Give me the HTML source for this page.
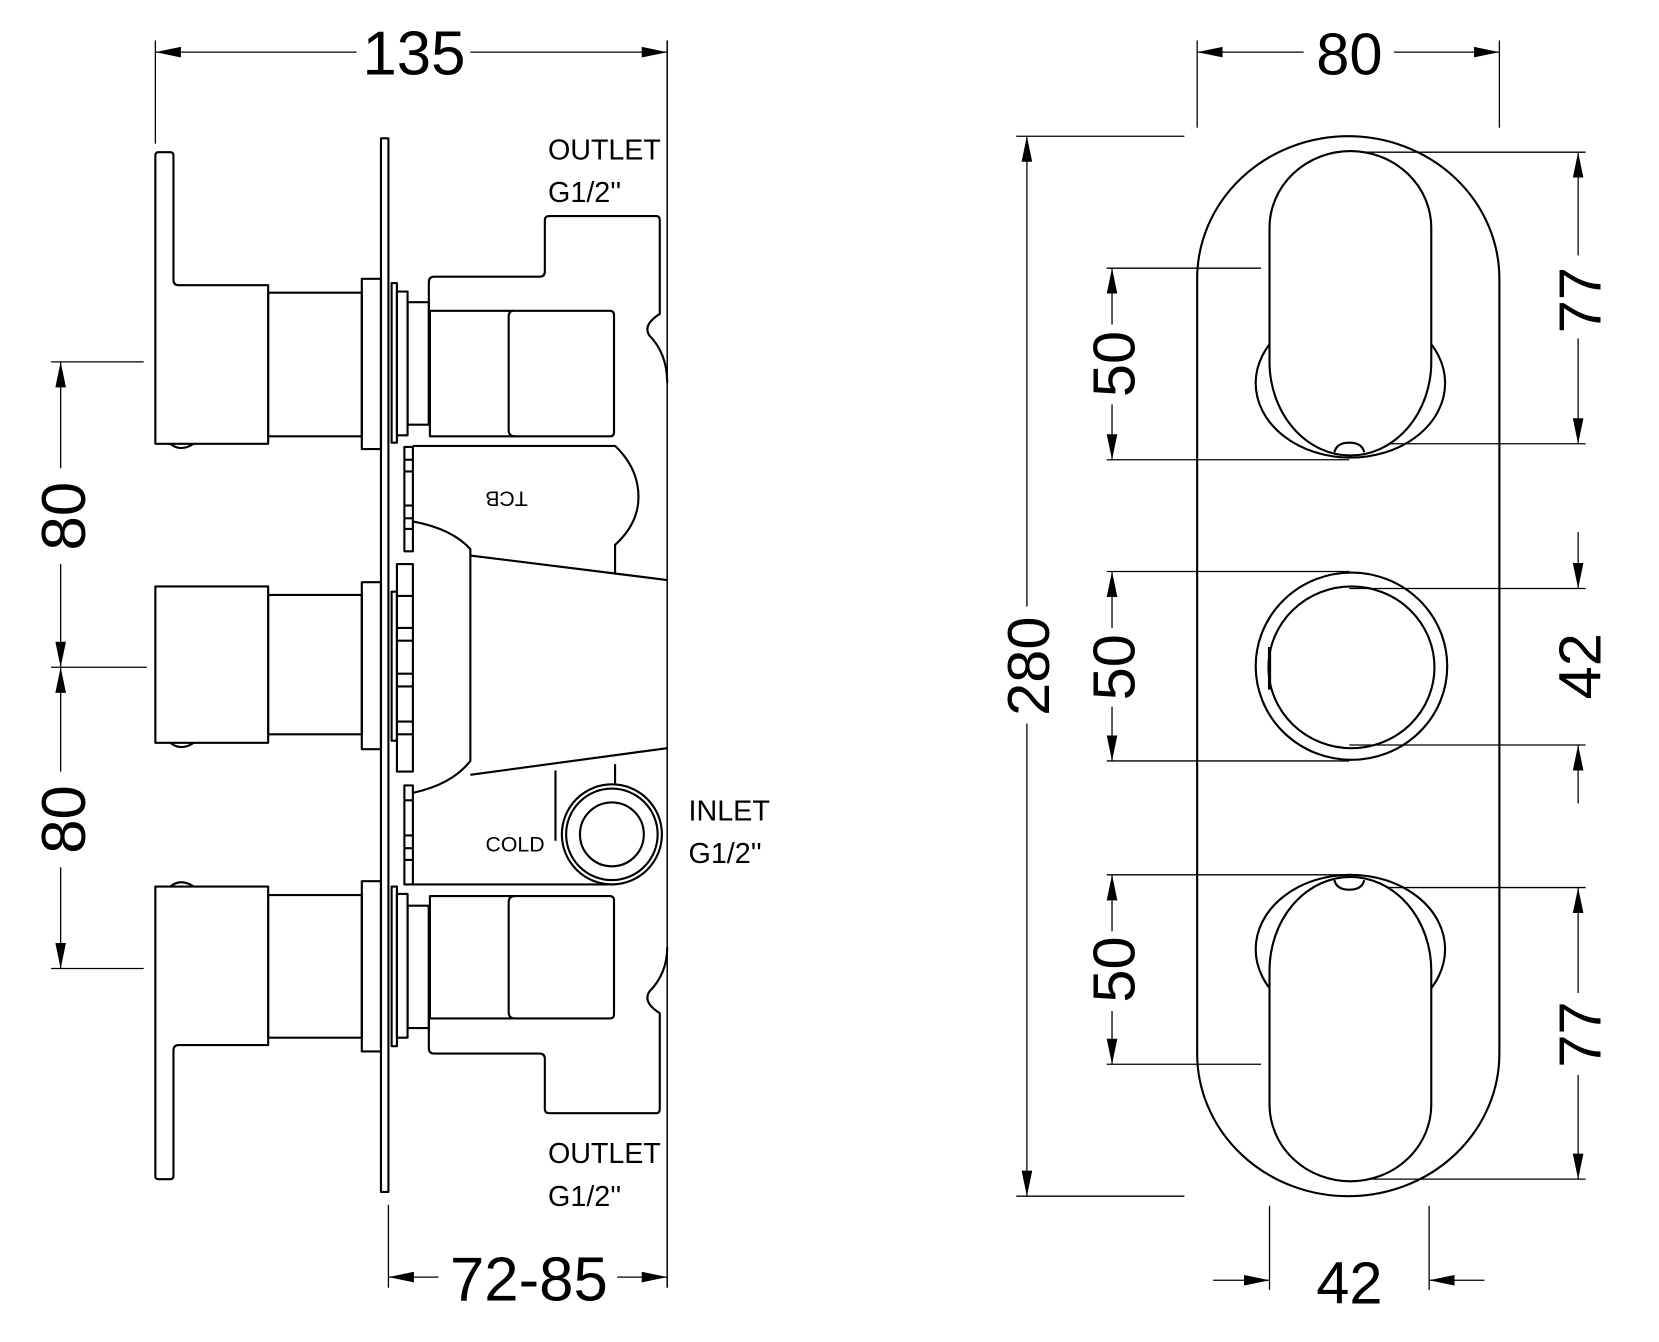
<!DOCTYPE html>
<html><head><style>html,body{margin:0;padding:0;background:#fff}svg{display:block}</style></head>
<body>
<svg width="1659" height="1342" viewBox="0 0 1559 1261" preserveAspectRatio="none" xmlns="http://www.w3.org/2000/svg">
<defs>
<marker id="a" viewBox="0 0 24 10" refX="24" refY="5" markerWidth="24" markerHeight="10" markerUnits="userSpaceOnUse" orient="auto-start-reverse"><path d="M0,0 L24,5 L0,10 Z" fill="#000"/></marker>
</defs>
<g fill="none" stroke="#000" stroke-width="1.2">
<!-- 135 dim -->
<line x1="146" y1="38" x2="146" y2="135"/>
<line x1="146" y1="49" x2="335" y2="49" marker-start="url(#a)"/>
<line x1="442" y1="49" x2="627" y2="49" marker-end="url(#a)"/>
<!-- 72-85 dim -->
<line x1="365" y1="1132" x2="365" y2="1210"/>
<line x1="365" y1="1200" x2="412" y2="1200" marker-start="url(#a)"/>
<line x1="580" y1="1200" x2="627" y2="1200" marker-end="url(#a)"/>
<!-- left 80 dims -->
<line x1="48" y1="340" x2="135" y2="340"/>
<line x1="48" y1="627" x2="138" y2="627"/>
<line x1="48" y1="910" x2="135" y2="910"/>
<line x1="57" y1="340" x2="57" y2="440" marker-start="url(#a)"/>
<line x1="57" y1="530" x2="57" y2="627" marker-end="url(#a)"/>
<line x1="57" y1="627" x2="57" y2="725" marker-start="url(#a)"/>
<line x1="57" y1="815" x2="57" y2="910" marker-end="url(#a)"/>
<!-- right 80 dim -->
<line x1="1125" y1="38" x2="1125" y2="120"/>
<line x1="1409" y1="38" x2="1409" y2="120"/>
<line x1="1125" y1="49" x2="1225" y2="49" marker-start="url(#a)"/>
<line x1="1310" y1="49" x2="1409" y2="49" marker-end="url(#a)"/>
<!-- 280 -->
<line x1="955" y1="128" x2="1113" y2="128"/>
<line x1="955" y1="1124" x2="1113" y2="1124"/>
<line x1="965" y1="128" x2="965" y2="570" marker-start="url(#a)"/>
<line x1="965" y1="680" x2="965" y2="1124" marker-end="url(#a)"/>
<!-- 50 dims -->
<line x1="1040" y1="252" x2="1185" y2="252"/>
<line x1="1040" y1="432" x2="1268" y2="432"/>
<line x1="1045" y1="252" x2="1045" y2="305" marker-start="url(#a)"/>
<line x1="1045" y1="380" x2="1045" y2="432" marker-end="url(#a)"/>
<line x1="1040" y1="537" x2="1268" y2="537"/>
<line x1="1040" y1="715" x2="1268" y2="715"/>
<line x1="1045" y1="537" x2="1045" y2="590" marker-start="url(#a)"/>
<line x1="1045" y1="664" x2="1045" y2="715" marker-end="url(#a)"/>
<line x1="1040" y1="822" x2="1268" y2="822"/>
<line x1="1040" y1="1000" x2="1185" y2="1000"/>
<line x1="1045" y1="822" x2="1045" y2="875" marker-start="url(#a)"/>
<line x1="1045" y1="950" x2="1045" y2="1000" marker-end="url(#a)"/>
<!-- 77 dims -->
<line x1="1268" y1="143" x2="1490" y2="143"/>
<line x1="1268" y1="417" x2="1490" y2="417"/>
<line x1="1483" y1="143" x2="1483" y2="240" marker-start="url(#a)"/>
<line x1="1483" y1="318" x2="1483" y2="417" marker-end="url(#a)"/>
<line x1="1268" y1="834" x2="1490" y2="834"/>
<line x1="1268" y1="1108" x2="1490" y2="1108"/>
<line x1="1483" y1="834" x2="1483" y2="933" marker-start="url(#a)"/>
<line x1="1483" y1="1010" x2="1483" y2="1108" marker-end="url(#a)"/>
<!-- 42 right -->
<line x1="1268" y1="553" x2="1490" y2="553"/>
<line x1="1268" y1="700" x2="1490" y2="700"/>
<line x1="1483" y1="500" x2="1483" y2="553" marker-end="url(#a)"/>
<line x1="1483" y1="755" x2="1483" y2="700" marker-end="url(#a)"/>
<!-- 42 bottom -->
<line x1="1193" y1="1133" x2="1193" y2="1212"/>
<line x1="1343" y1="1133" x2="1343" y2="1212"/>
<line x1="1140" y1="1203" x2="1193" y2="1203" marker-end="url(#a)"/>
<line x1="1395" y1="1203" x2="1343" y2="1203" marker-end="url(#a)"/>
</g>

<g fill="none" stroke="#000" stroke-width="2" stroke-linejoin="round">
<!-- body right line -->
<line x1="627" y1="38" x2="627" y2="1210" stroke-width="1.4"/>
<!-- wall plate -->
<rect x="358" y="130" width="7" height="990"/>
<!-- top handle -->
<path d="M146,146 Q146,143 149,143 L160,143 Q163,143 163,146 L163,263 Q163,268 168,268 L252,268 L252,417 L146,417 Z"/>
<path d="M160,417 Q170,425 182,417"/>
<rect x="252" y="275" width="88" height="135"/>
<rect x="340" y="262" width="18" height="160"/>
<rect x="368" y="266" width="5" height="150"/>
<rect x="373" y="274" width="10" height="135"/>
<rect x="383" y="284" width="20" height="115"/>
<!-- middle handle -->
<rect x="146" y="551" width="106" height="147"/>
<path d="M160,698 Q170,706 182,698"/>
<rect x="252" y="559" width="88" height="131"/>
<rect x="340" y="547" width="18" height="157"/>
<rect x="368" y="556" width="5" height="140"/>
<rect x="373" y="530" width="15" height="195"/>
<!-- bottom handle -->
<path d="M146,833 L252,833 L252,982 L168,982 Q163,982 163,987 L163,1105 Q163,1108 160,1108 L149,1108 Q146,1108 146,1105 Z"/>
<path d="M160,833 Q170,825 182,833"/>
<rect x="252" y="841" width="88" height="134"/>
<rect x="340" y="828" width="18" height="160"/>
<rect x="368" y="833" width="5" height="150"/>
<rect x="373" y="840" width="10" height="135"/>
<rect x="383" y="851" width="20" height="115"/>
<!-- top body -->
<path d="M403,399 L403,265 Q403,260 408,260 L507,260 Q512,260 512,255 L512,207 Q512,203 516,203 L617,203 Q620,203 620,207 L620,295 Q604,305 610,315 Q627,332 627,360"/>
<path d="M404,410 L404,292 L573,292 Q577,292 577,296 L577,406 Q577,410 573,410 Z"/>
<path d="M482,292 Q478,292 478,298 L478,404 Q478,410 484,410"/>
<!-- TCB region -->
<path d="M388,419 L578,419 Q600,440 600,467 Q600,492 578,512 L578,540"/>
<rect x="380" y="420" width="8" height="98"/>
<line x1="380" y1="432" x2="388" y2="432"/><line x1="380" y1="443" x2="388" y2="443"/><line x1="380" y1="475" x2="388" y2="475"/><line x1="380" y1="487" x2="388" y2="487"/><line x1="380" y1="497" x2="388" y2="497"/>
<path d="M388,490 Q425,497 442,516 L442,715 Q425,737 388,745"/>
<line x1="442" y1="522" x2="627" y2="545"/>
<line x1="442" y1="728" x2="627" y2="703"/>
<line x1="373" y1="560" x2="388" y2="560"/><line x1="373" y1="590" x2="388" y2="590"/><line x1="373" y1="602" x2="388" y2="602"/><line x1="373" y1="633" x2="388" y2="633"/><line x1="373" y1="645" x2="388" y2="645"/><line x1="373" y1="678" x2="388" y2="678"/><line x1="373" y1="690" x2="388" y2="690"/>
<!-- inlet -->
<line x1="522" y1="724" x2="522" y2="790"/>
<line x1="578" y1="718" x2="578" y2="738"/>
<circle cx="575" cy="784" r="47"/>
<circle cx="575" cy="784" r="43"/>
<circle cx="575" cy="784" r="30"/>
<rect x="380" y="738" width="8" height="93"/>
<line x1="380" y1="752" x2="388" y2="752"/><line x1="380" y1="785" x2="388" y2="785"/><line x1="380" y1="797" x2="388" y2="797"/><line x1="380" y1="808" x2="388" y2="808"/>
<line x1="388" y1="831" x2="578" y2="831"/>
<!-- bottom body -->
<path d="M403,852 L403,985 Q403,990 408,990 L507,990 Q512,990 512,995 L512,1042 Q512,1046 516,1046 L617,1046 Q620,1046 620,1042 L620,952 Q604,942 610,932 Q627,915 627,890"/>
<path d="M404,842 L573,842 Q577,842 577,846 L577,953 Q577,957 573,957 L404,957 Z"/>
<path d="M484,842 Q478,842 478,848 L478,951 Q478,957 484,957"/>
<!-- plate front -->
<path d="M1125,262 A142,134 0 0 1 1409,262 L1409,990 A142,134 0 0 1 1125,990 Z"/>
<!-- top knob -->
<ellipse cx="1269" cy="360" rx="89" ry="70"/>
<path d="M1193,214 A76,72 0 0 1 1345,214 L1345,340 A76,88 0 0 1 1193,340 Z" fill="#fff"/>
<path d="M1254,425 Q1256,416 1268,416 Q1280,416 1282,425"/>
<!-- middle knob -->
<ellipse cx="1270" cy="626" rx="90" ry="88"/>
<ellipse cx="1270" cy="627" rx="78" ry="76"/>
<line x1="1193" y1="608" x2="1193" y2="648" stroke-width="3"/>
<!-- bottom knob -->
<ellipse cx="1269" cy="892" rx="89" ry="70"/>
<path d="M1193,1038 A76,72 0 0 0 1345,1038 L1345,912 A76,88 0 0 0 1193,912 Z" fill="#fff"/>
<path d="M1254,827 Q1256,836 1268,836 Q1280,836 1282,827"/>
</g>

<g font-family="'Liberation Sans Narrow','Liberation Sans',sans-serif" fill="#000" text-anchor="middle">
<text x="389" y="70" font-size="58">135</text>
<text x="497" y="1222" font-size="58">72-85</text>
<text transform="translate(80,485) rotate(-90)" font-size="58">80</text>
<text transform="translate(80,770) rotate(-90)" font-size="58">80</text>
</g>
<g font-family="'Liberation Sans',sans-serif" fill="#000" text-anchor="middle">
<text x="1268" y="70" font-size="56">80</text>
<text x="1268" y="1225" font-size="56">42</text>
<text transform="translate(986,626) rotate(-90)" font-size="56">280</text>
<text transform="translate(1066,342) rotate(-90)" font-size="56">50</text>
<text transform="translate(1066,627) rotate(-90)" font-size="56">50</text>
<text transform="translate(1066,911) rotate(-90)" font-size="56">50</text>
<text transform="translate(1504,282) rotate(-90)" font-size="56">77</text>
<text transform="translate(1504,626) rotate(-90)" font-size="56">42</text>
<text transform="translate(1504,972) rotate(-90)" font-size="56">77</text>
</g>
<g font-family="'Liberation Sans',sans-serif" fill="#000" font-size="27">
<text x="515" y="150" textLength="106">OUTLET</text>
<text x="515" y="190">G1/2''</text>
<text x="515" y="1093" textLength="106">OUTLET</text>
<text x="515" y="1133">G1/2''</text>
<text x="647" y="771">INLET</text>
<text x="647" y="811">G1/2''</text>
</g>
<g font-family="'Liberation Sans Narrow','Liberation Sans',sans-serif" fill="#000" font-size="20" text-anchor="middle">
<text x="484" y="800">COLD</text>
<text transform="translate(476,462) rotate(180)">TCB</text>
</g>
</svg>
</body></html>
